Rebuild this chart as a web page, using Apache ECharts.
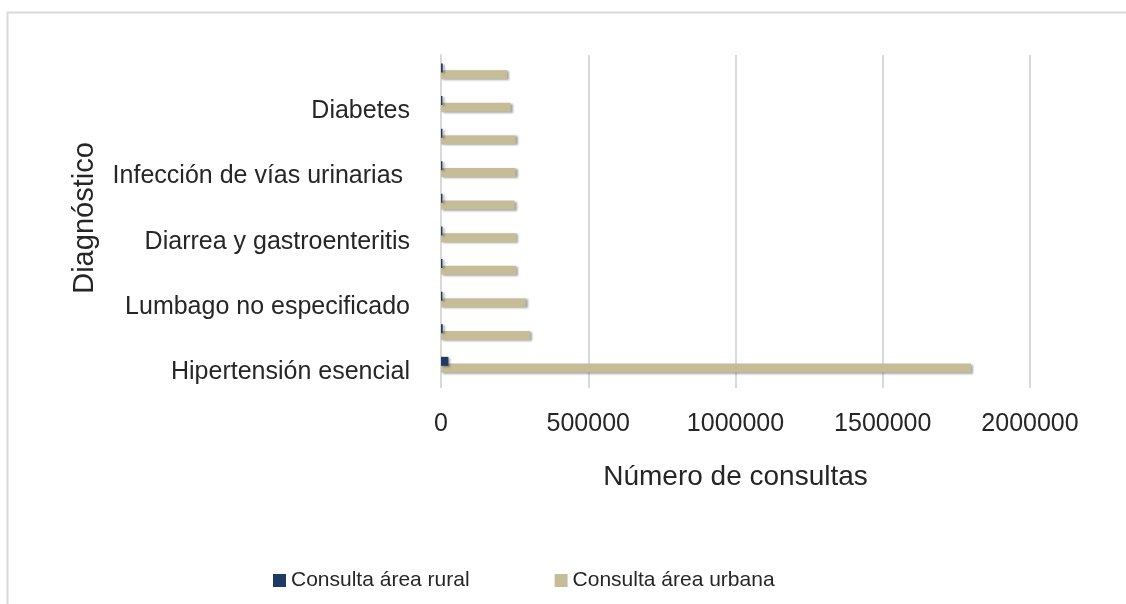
<!DOCTYPE html>
<html>
<head>
<meta charset="utf-8">
<script src="https://cdn.jsdelivr.net/npm/echarts@6/dist/echarts.min.js"></script>
<style>
  html, body { margin: 0; padding: 0; background: #fff; }
  #chart { width: 1126px; height: 604px; }
</style>
</head>
<body>
<div id="chart"></div>
<script>
// diagnósticos, de abajo hacia arriba (sólo se rotula uno de cada dos)
var categorias = [
  'Hipertensión esencial',
  'Rinofaringitis aguda',
  'Lumbago no especificado',
  'Caries de la dentina',
  'Diarrea y gastroenteritis',
  'Gingivitis crónica',
  'Infección de vías urinarias ',
  'Dolor abdominal',
  'Diabetes',
  'Vaginitis aguda'
];
var rural = [25000, 6000, 5000, 5000, 5000, 5000, 5000, 5000, 5000, 6000];
var urbana = [1800000, 302000, 287000, 256000, 256000, 250000, 253000, 253000, 236000, 224000];
var ticksX = [0, 500000, 1000000, 1500000, 2000000];

var fuente = "'Liberation Sans', Arial, sans-serif";
var chart = echarts.init(document.getElementById('chart'));

chart.setOption({
  animation: false,
  textStyle: { fontFamily: fuente },
  graphic: [{
    type: 'rect',
    left: 5, top: 10,
    shape: { width: 1200, height: 700 },
    style: { fill: 'none', stroke: '#d9d9d9', lineWidth: 2 }
  }],
  grid: { left: 441, right: 96, top: 55, bottom: 223 },
  legend: {
    bottom: 8,
    left: 268,
    itemWidth: 13, itemHeight: 13,
    itemGap: 85,
    icon: 'rect',
    textStyle: { fontSize: 21, color: '#262626', fontFamily: fuente }
  },
  xAxis: {
    type: 'value',
    min: ticksX[0], max: ticksX[ticksX.length - 1],
    interval: 500000,
    name: 'Número de consultas',
    nameLocation: 'middle',
    nameGap: 82,
    nameTextStyle: { fontSize: 28, color: '#262626', fontFamily: fuente },
    axisLine: { show: false },
    axisTick: { show: true, length: 7, lineStyle: { color: '#d9d9d9', width: 2 } },
    axisLabel: {
      fontSize: 25, color: '#262626', margin: 31, fontFamily: fuente,
      formatter: function (v) { return String(v); }
    },
    splitLine: { lineStyle: { color: '#d9d9d9', width: 2 } }
  },
  yAxis: {
    type: 'category',
    data: categorias,
    name: 'Diagnóstico',
    nameLocation: 'middle',
    nameGap: 342,
    nameRotate: 90,
    nameTextStyle: { fontSize: 29, color: '#262626', fontFamily: fuente },
    axisLine: { lineStyle: { color: '#d9d9d9', width: 2 } },
    axisTick: { show: false },
    axisLabel: {
      interval: 1, fontSize: 25, color: '#262626', margin: 31, fontFamily: fuente,
      verticalAlign: 'top', lineHeight: 15
    }
  },
  series: [{
    name: 'Consulta área rural',
    type: 'bar',
    data: rural,
    barWidth: 9,
    barGap: '-25%',
    z: 3,
    itemStyle: {
      color: '#1f3b64',
      shadowColor: 'rgba(0,0,0,0.35)', shadowBlur: 2, shadowOffsetX: 2, shadowOffsetY: 1
    }
  }, {
    name: 'Consulta área urbana',
    type: 'bar',
    data: urbana,
    barWidth: 9,
    z: 2,
    itemStyle: {
      color: '#c4bd97',
      shadowColor: 'rgba(0,0,0,0.35)', shadowBlur: 2, shadowOffsetX: 2, shadowOffsetY: 1
    }
  }]
});
</script>
</body>
</html>
